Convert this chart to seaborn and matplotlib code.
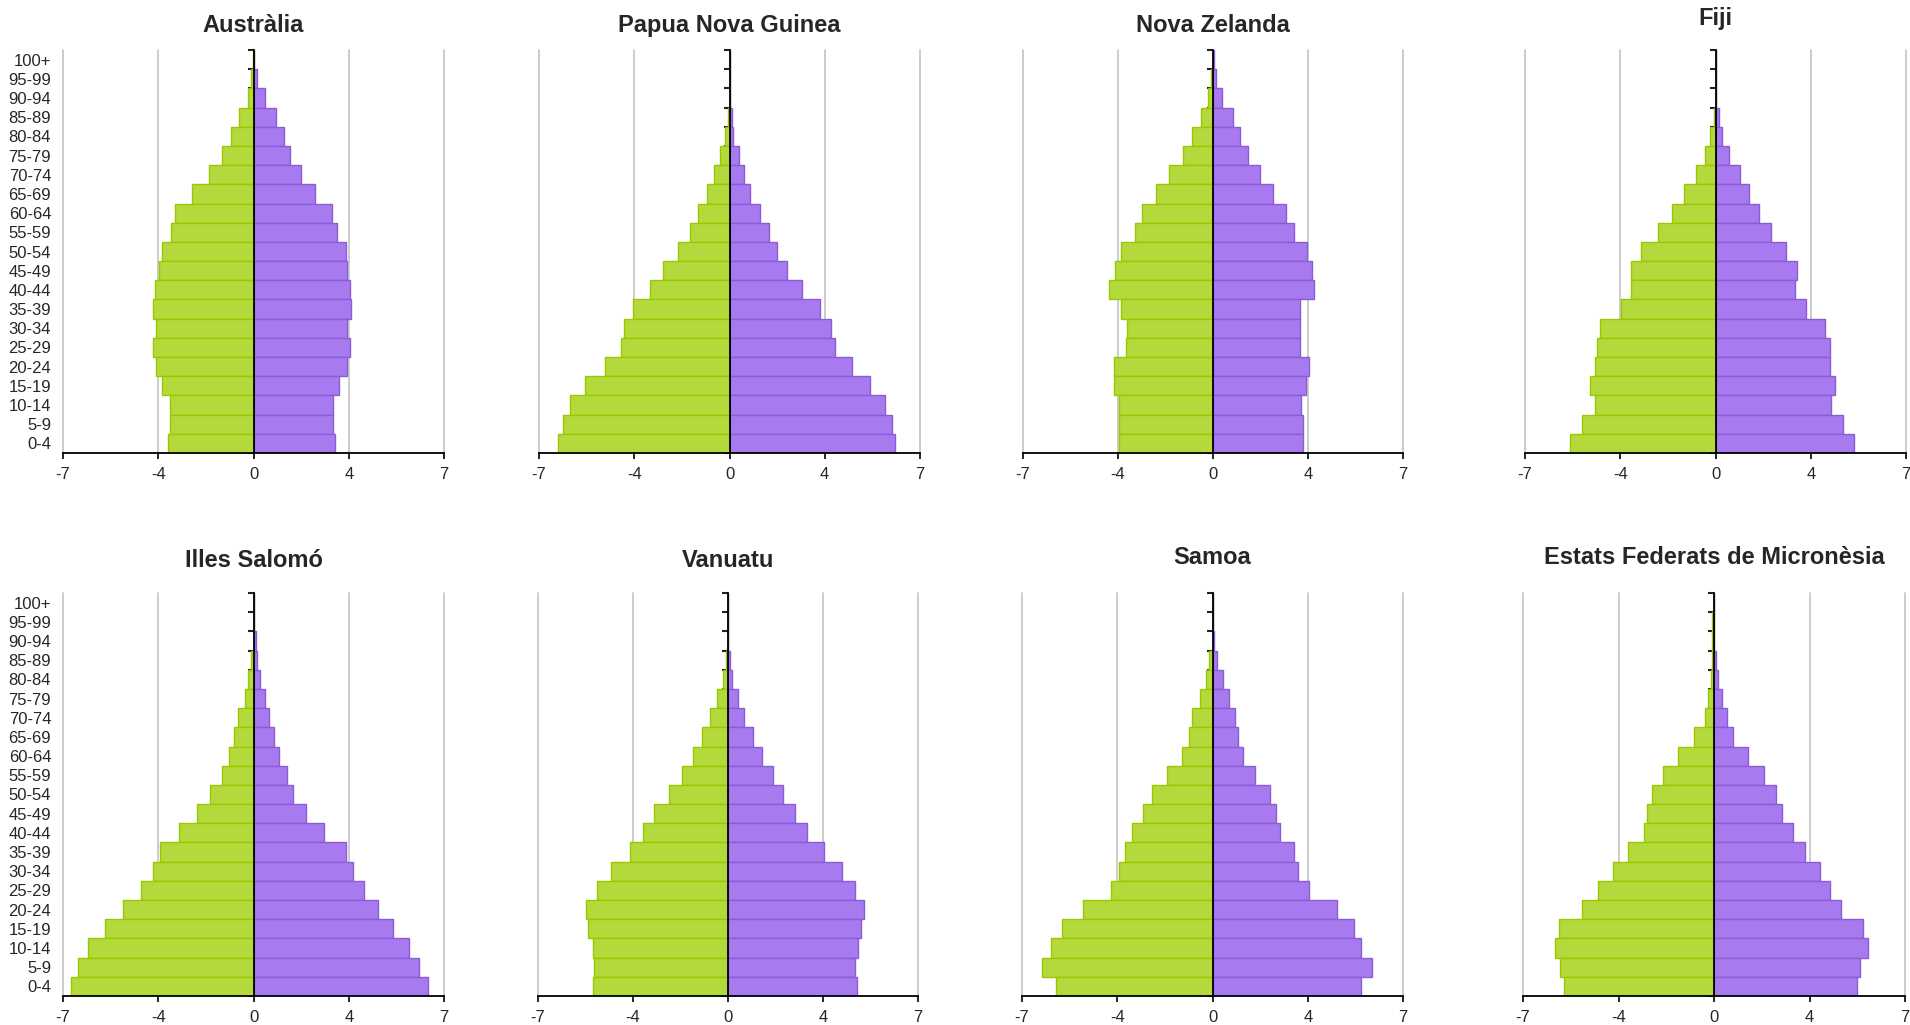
import numpy as np
import pandas as pd
import matplotlib
matplotlib.use("Agg")
import matplotlib.pyplot as plt
import seaborn as sns

# ---------------- data (bottom age group first) ----------------
ages = ['0-4', '5-9', '10-14', '15-19', '20-24', '25-29', '30-34', '35-39',
        '40-44', '45-49', '50-54', '55-59', '60-64', '65-69', '70-74',
        '75-79', '80-84', '85-89', '90-94', '95-99', '100+']

countries = ['Austràlia', 'Papua Nova Guinea', 'Nova Zelanda', 'Fiji',
             'Illes Salomó', 'Vanuatu', 'Samoa', 'Estats Federats de Micronèsia']

australia_left = [3.22, 3.17, 3.17, 3.46, 3.69, 3.80, 3.69, 3.80, 3.74, 3.58, 3.46,
                  3.12, 2.95, 2.33, 1.70, 1.20, 0.86, 0.53, 0.19, 0.10, 0.01]
australia_right = [3.07, 3.01, 3.01, 3.25, 3.53, 3.63, 3.53, 3.70, 3.63, 3.53, 3.48,
                   3.14, 2.96, 2.34, 1.78, 1.37, 1.15, 0.86, 0.42, 0.13, 0.02]

png_left = [6.48, 6.31, 6.03, 5.46, 4.72, 4.10, 3.98, 3.63, 3.00, 2.51, 1.94,
            1.49, 1.19, 0.86, 0.58, 0.35, 0.18, 0.06, 0.0, 0.0, 0.0]
png_right = [6.27, 6.15, 5.88, 5.31, 4.63, 4.00, 3.83, 3.42, 2.75, 2.17, 1.79,
             1.49, 1.15, 0.77, 0.54, 0.35, 0.13, 0.09, 0.0, 0.0, 0.0]

nz_left = [3.58, 3.58, 3.58, 3.75, 3.75, 3.29, 3.25, 3.47, 3.93, 3.71, 3.47,
           2.95, 2.69, 2.17, 1.66, 1.15, 0.81, 0.47, 0.20, 0.08, 0.01]
nz_right = [3.40, 3.40, 3.34, 3.53, 3.63, 3.29, 3.29, 3.29, 3.81, 3.76, 3.57,
            3.08, 2.77, 2.28, 1.77, 1.31, 1.03, 0.74, 0.35, 0.13, 0.02]

fiji_left = [5.50, 5.05, 4.55, 4.76, 4.55, 4.48, 4.37, 3.58, 3.19, 3.19, 2.83,
             2.17, 1.65, 1.20, 0.74, 0.40, 0.19, 0.06, 0.0, 0.0, 0.0]
fiji_right = [5.23, 4.81, 4.36, 4.53, 4.32, 4.32, 4.14, 3.41, 3.00, 3.07, 2.67,
              2.09, 1.64, 1.26, 0.92, 0.52, 0.24, 0.13, 0.0, 0.0, 0.0]

salomo_left = [6.91, 6.64, 6.25, 5.62, 4.94, 4.24, 3.80, 3.53, 2.83, 2.15, 1.65,
               1.20, 0.91, 0.73, 0.57, 0.34, 0.19, 0.08, 0.0, 0.0, 0.0]
salomo_right = [6.59, 6.25, 5.86, 5.29, 4.72, 4.16, 3.75, 3.48, 2.68, 2.00, 1.49,
                1.26, 0.98, 0.76, 0.58, 0.42, 0.24, 0.13, 0.08, 0.0, 0.0]

vanuatu_left = [5.13, 5.09, 5.13, 5.32, 5.37, 4.96, 4.44, 3.72, 3.21, 2.82, 2.25,
                1.73, 1.34, 1.00, 0.69, 0.43, 0.20, 0.09, 0.0, 0.0, 0.0]
vanuatu_right = [4.89, 4.82, 4.94, 5.05, 5.16, 4.82, 4.32, 3.64, 3.00, 2.55, 2.10,
                 1.70, 1.30, 0.96, 0.62, 0.39, 0.16, 0.06, 0.0, 0.0, 0.0]

samoa_left = [5.91, 6.43, 6.09, 5.69, 4.89, 3.82, 3.53, 3.30, 3.03, 2.62, 2.28,
              1.71, 1.15, 0.87, 0.76, 0.47, 0.24, 0.13, 0.0, 0.0, 0.0]
samoa_right = [5.62, 6.03, 5.62, 5.35, 4.70, 3.64, 3.24, 3.08, 2.56, 2.40, 2.17,
               1.60, 1.15, 0.97, 0.86, 0.63, 0.40, 0.18, 0.06, 0.0, 0.0]

micronesia_left = [5.67, 5.79, 5.98, 5.86, 4.99, 4.39, 3.82, 3.25, 2.62, 2.51, 2.33,
                   1.93, 1.37, 0.74, 0.35, 0.24, 0.13, 0.06, 0.06, 0.06, 0.0]
micronesia_right = [5.40, 5.51, 5.80, 5.62, 4.78, 4.38, 3.98, 3.42, 2.96, 2.56, 2.33,
                    1.88, 1.27, 0.71, 0.48, 0.30, 0.14, 0.06, 0.0, 0.0, 0.0]

left_values = [australia_left, png_left, nz_left, fiji_left,
               salomo_left, vanuatu_left, samoa_left, micronesia_left]
right_values = [australia_right, png_right, nz_right, fiji_right,
                salomo_right, vanuatu_right, samoa_right, micronesia_right]

x_ticks = [-7.2, -3.6, 0, 3.6, 7.2]
x_tick_labels = ['-7', '-4', '0', '4', '7']

# ---------------- style ----------------
sns.set_style('white')
plt.rcParams['font.family'] = ['Liberation Sans', 'DejaVu Sans']

GREEN = '#b4d93c'
GREEN_EDGE = '#99c800'
PURPLE = '#a87af0'
PURPLE_EDGE = '#8a5cd8'

W, H = 1910, 1025
fig = plt.figure(figsize=(W / 100, H / 100), dpi=100)

# axes boxes in pixels: (left, top, right, bottom)
boxes = [(63, 50, 444, 453), (539, 50, 920, 453), (1023, 50, 1403, 453), (1525, 50, 1906, 453),
         (63, 593, 444, 996), (538, 593, 918, 996), (1022, 593, 1403, 996), (1523, 593, 1905, 996)]
title_pads = [13, 13, 13, 18, 19, 19, 21, 21]

order = ages[::-1]

for i, name in enumerate(countries):
    l, t, r, b = boxes[i]
    ax = fig.add_axes([l / W, 1 - b / H, (r - l) / W, (b - t) / H])
    df = pd.DataFrame({'age': ages,
                       'left': -np.array(left_values[i]),
                       'right': np.array(right_values[i])})
    sns.barplot(data=df, x='left', y='age', order=order, orient='h', width=1.0,
                color=GREEN, saturation=1, edgecolor=GREEN_EDGE, linewidth=1,
                ax=ax, zorder=2)
    sns.barplot(data=df, x='right', y='age', order=order, orient='h', width=1.0,
                color=PURPLE, saturation=1, edgecolor=PURPLE_EDGE, linewidth=1,
                ax=ax, zorder=2)

    ax.set_xlim(-7.2, 7.2)
    ax.set_ylim(len(ages) - 0.5, -0.5)
    ax.set_xlabel('')
    ax.set_ylabel('')

    for xv in x_ticks:
        if xv != 0:
            ax.axvline(xv, color='#c4c4c4', lw=1.2, zorder=0, clip_on=False)

    ax.spines['top'].set_visible(False)
    ax.spines['left'].set_visible(False)
    ax.spines['right'].set_position(('data', 0))
    ax.spines['right'].set_color('black')
    ax.spines['right'].set_linewidth(1.3)
    ax.spines['right'].set_zorder(3)
    ax.spines['bottom'].set_color('black')
    ax.spines['bottom'].set_linewidth(1.3)

    ax.set_xticks(x_ticks)
    ax.set_xticklabels(x_tick_labels)
    ax.tick_params(axis='x', which='major', bottom=True, direction='out', length=4,
                   width=1.2, color='black', labelsize=12, pad=6)

    ax.set_yticks(np.arange(-0.5, len(ages), 1.0), minor=True)
    ax.tick_params(axis='y', which='minor', left=False, right=True, direction='in',
                   length=4, width=1.5, color='#222222')
    ax.tick_params(axis='y', which='major', left=False, right=False, length=0,
                   labelsize=12, pad=8.5, labelleft=(i % 4 == 0))

    ax.set_title(name, fontsize=17, fontweight='bold', pad=title_pads[i])

fig.savefig('out.png', dpi=100)
